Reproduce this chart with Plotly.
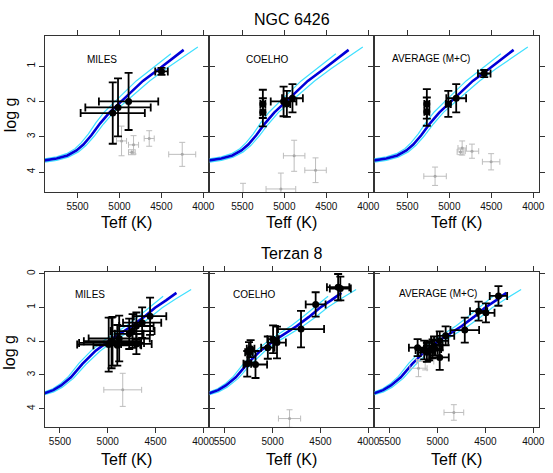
import plotly.graph_objects as go

W, H = 553, 473

# ---------------- isochrone curves ----------------
iso_top_teff = [5893, 5750, 5620, 5512, 5430, 5335, 5230, 5118, 5000, 4883, 4720, 4529, 4380, 4234]
iso_top_logg = [3.67, 3.62, 3.53, 3.39, 3.22, 2.96, 2.62, 2.31, 2.05, 1.78, 1.42, 1.08, 0.80, 0.54]
hot_top_teff = [5893, 5750, 5630, 5530, 5455, 5370, 5280, 5180, 5070, 4960, 4800, 4610, 4386]
hot_top_logg = [3.63, 3.57, 3.48, 3.34, 3.17, 2.92, 2.60, 2.30, 2.04, 1.78, 1.42, 1.07, 0.65]
cool_top_teff = [5893, 5750, 5610, 5490, 5400, 5300, 5190, 5070, 4940, 4810, 4640, 4440, 4250, 4065]
cool_top_logg = [3.72, 3.67, 3.58, 3.43, 3.25, 2.98, 2.64, 2.31, 2.04, 1.78, 1.42, 1.07, 0.76, 0.46]

iso_bot_teff = [5661, 5570, 5488, 5385, 5265, 5126, 4988, 4870, 4747, 4620, 4505, 4390, 4281]
iso_bot_logg = [3.54, 3.45, 3.31, 3.07, 2.67, 2.28, 1.99, 1.77, 1.55, 1.28, 1.01, 0.79, 0.57]
hot_bot_teff = [5661, 5575, 5500, 5410, 5300, 5170, 5040, 4925, 4805, 4680, 4560, 4420]
hot_bot_logg = [3.50, 3.41, 3.27, 3.04, 2.65, 2.27, 1.98, 1.76, 1.54, 1.27, 1.00, 0.67]
cool_bot_teff = [5661, 5565, 5475, 5360, 5230, 5080, 4935, 4810, 4680, 4550, 4430, 4290, 4127]
cool_bot_logg = [3.58, 3.50, 3.36, 3.10, 2.69, 2.29, 1.99, 1.77, 1.55, 1.28, 1.01, 0.75, 0.47]

# ---------------- NGC 6426 ----------------
n_miles_teff = [4498, 4891, 5017, 5080]
n_miles_logg = [1.15, 2.00, 2.17, 2.33]
n_miles_eteff = [75, 354, 390, 383]
n_miles_elogg = [0.10, 0.81, 0.82, 0.87]
n_miles_gteff = [4975, 4832, 4852, 4645, 4251]
n_miles_glogg = [3.12, 3.23, 3.44, 3.05, 3.50]
n_miles_geteff = [60, 60, 40, 60, 161]
n_miles_gelogg = [0.42, 0.26, 0.07, 0.22, 0.34]

n_coelho_teff = [5256, 5256, 5009, 4970, 4903]
n_coelho_logg = [2.07, 2.31, 2.00, 2.07, 1.91]
n_coelho_eteff = [30, 30, 153, 40, 124]
n_coelho_elogg = [0.40, 0.40, 0.42, 0.37, 0.40]
n_coelho_gteff = [4883, 4628, 5041, 5492]
n_coelho_glogg = [3.54, 3.95, 4.48, 4.80]
n_coelho_geteff = [128, 128, 177, 60]
n_coelho_gelogg = [0.44, 0.35, 0.45, 0.48]

n_avg_teff = [4584, 5268, 5268, 5012, 4918]
n_avg_logg = [1.21, 2.07, 2.29, 2.07, 1.91]
n_avg_eteff = [75, 30, 30, 30, 118]
n_avg_elogg = [0.10, 0.42, 0.40, 0.37, 0.40]
n_avg_gteff = [4847, 4867, 4730, 4502, 5170]
n_avg_glogg = [3.32, 3.43, 3.41, 3.71, 4.12]
n_avg_geteff = [50, 40, 80, 104, 134]
n_avg_gelogg = [0.20, 0.08, 0.20, 0.23, 0.26]

# ---------------- Terzan 8 ----------------
t_miles_teff = [4557, 4640, 4700, 4740, 4775, 4880, 4960, 4990, 4950, 4700, 4900]
t_miles_logg = [1.26, 1.45, 1.55, 1.70, 1.78, 1.92, 2.05, 2.10, 2.00, 2.08, 2.12]
t_miles_eteff = [170, 200, 180, 230, 150, 320, 340, 330, 300, 160, 250]
t_miles_elogg = [0.55, 0.45, 0.40, 0.50, 0.45, 0.68, 0.75, 0.80, 0.72, 0.30, 0.60]
t_miles_gteff = [4843]
t_miles_glogg = [3.44]
t_miles_geteff = [198]
t_miles_gelogg = [0.49]

t_coelho_teff = [4315, 4292, 4550, 4703, 4954, 4995, 5050, 5230, 5247, 5179, 5265]
t_coelho_logg = [0.40, 0.44, 0.91, 1.64, 2.04, 1.94, 2.19, 2.22, 2.33, 2.69, 2.67]
t_coelho_eteff = [117, 110, 104, 241, 93, 60, 70, 40, 40, 121, 40]
t_coelho_elogg = [0.39, 0.35, 0.36, 0.54, 0.47, 0.41, 0.33, 0.25, 0.30, 0.40, 0.38]
t_coelho_gteff = [4823]
t_coelho_glogg = [4.29]
t_coelho_geteff = [116]
t_coelho_gelogg = [0.26]

t_avg_teff = [4364, 4571, 4495, 4716, 4916, 4978, 5037, 5053, 5089, 5112, 5140, 5209, 4978]
t_avg_logg = [0.66, 1.11, 1.16, 1.67, 1.84, 1.99, 2.14, 2.23, 2.28, 2.33, 2.26, 2.19, 2.48]
t_avg_eteff = [91, 90, 90, 150, 90, 90, 90, 90, 90, 90, 90, 91, 95]
t_avg_elogg = [0.29, 0.28, 0.28, 0.37, 0.28, 0.28, 0.28, 0.28, 0.28, 0.28, 0.28, 0.25, 0.37]
t_avg_gteff = [4830, 5200, 5130]
t_avg_glogg = [4.11, 2.80, 2.60]
t_avg_geteff = [103, 90, 90]
t_avg_gelogg = [0.23, 0.25, 0.25]

panel_names = ["MILES", "COELHO", "AVERAGE (M+C)"]
row_titles = ["NGC 6426", "Terzan 8"]
x_ticks = [5500, 5000, 4500, 4000]

FONT = "Liberation Sans, Arial, Helvetica, sans-serif"
BLUE = "#0000d8"
CYAN = "#3fe0ff"
GRAY = "#bdbdbd"

# layout geometry (pixels)
col_px = [(45, 211.3), (211.3, 377.8), (377.8, 544.3)]
row_px = [(33.3, 190.7), (270.7, 426.7)]
x_ranges = [[5893, 3927], [5661, 3936]]
y_ranges = [[4.58, 0.15], [4.54, -0.05]]

panels = [
    [(n_miles_teff, n_miles_logg, n_miles_eteff, n_miles_elogg,
      n_miles_gteff, n_miles_glogg, n_miles_geteff, n_miles_gelogg),
     (n_coelho_teff, n_coelho_logg, n_coelho_eteff, n_coelho_elogg,
      n_coelho_gteff, n_coelho_glogg, n_coelho_geteff, n_coelho_gelogg),
     (n_avg_teff, n_avg_logg, n_avg_eteff, n_avg_elogg,
      n_avg_gteff, n_avg_glogg, n_avg_geteff, n_avg_gelogg)],
    [(t_miles_teff, t_miles_logg, t_miles_eteff, t_miles_elogg,
      t_miles_gteff, t_miles_glogg, t_miles_geteff, t_miles_gelogg),
     (t_coelho_teff, t_coelho_logg, t_coelho_eteff, t_coelho_elogg,
      t_coelho_gteff, t_coelho_glogg, t_coelho_geteff, t_coelho_gelogg),
     (t_avg_teff, t_avg_logg, t_avg_eteff, t_avg_elogg,
      t_avg_gteff, t_avg_glogg, t_avg_geteff, t_avg_gelogg)],
]
curves = [
    ((iso_top_teff, iso_top_logg), (hot_top_teff, hot_top_logg), (cool_top_teff, cool_top_logg)),
    ((iso_bot_teff, iso_bot_logg), (hot_bot_teff, hot_bot_logg), (cool_bot_teff, cool_bot_logg)),
]

fig = go.Figure()
layout = dict(
    width=W, height=H, margin=dict(l=0, r=0, t=0, b=0),
    paper_bgcolor="white", plot_bgcolor="white", showlegend=False,
    font=dict(family=FONT, color="black"),
)
annotations = []

idx = 0
for r in range(2):
    y0, y1 = row_px[r]
    ydom = [1 - y1 / H, 1 - y0 / H]
    for c in range(3):
        idx += 1
        x0, x1 = col_px[c]
        xdom = [x0 / W, x1 / W]
        xa = "x" if idx == 1 else f"x{idx}"
        ya = "y" if idx == 1 else f"y{idx}"
        layout["xaxis" if idx == 1 else f"xaxis{idx}"] = dict(
            domain=xdom, anchor=ya, range=x_ranges[r], tickvals=x_ticks,
            ticks="outside", ticklen=5, tickwidth=1, tickcolor="#333",
            showline=True, linecolor="#333", linewidth=1, mirror="allticks",
            showgrid=False, zeroline=False,
            tickfont=dict(size=10, family=FONT, color="#111"),
        )
        layout["yaxis" if idx == 1 else f"yaxis{idx}"] = dict(
            domain=ydom, anchor=xa, range=y_ranges[r], tickvals=[0, 1, 2, 3, 4],
            ticks="outside", ticklen=5, tickwidth=1, tickcolor="#333",
            showline=True, linecolor="#333", linewidth=1, mirror="allticks",
            showgrid=False, zeroline=False, showticklabels=(c == 0),
            tickangle=-90, tickfont=dict(size=10, family=FONT, color="#111"),
        )
        (bt, bg), (ht, hg), (ct, cg) = curves[r]
        fig.add_trace(go.Scatter(x=ht, y=hg, mode="lines", line=dict(color=CYAN, width=1.2),
                                 xaxis=xa, yaxis=ya, hoverinfo="skip"))
        fig.add_trace(go.Scatter(x=ct, y=cg, mode="lines", line=dict(color=CYAN, width=1.2),
                                 xaxis=xa, yaxis=ya, hoverinfo="skip"))
        fig.add_trace(go.Scatter(x=bt, y=bg, mode="lines", line=dict(color=BLUE, width=2.6),
                                 xaxis=xa, yaxis=ya, hoverinfo="skip"))
        tt, tg, et, eg, gt, gg, get_, geg = panels[r][c]
        fig.add_trace(go.Scatter(
            x=gt, y=gg, mode="markers", xaxis=xa, yaxis=ya,
            marker=dict(color="#a8a8a8", size=3),
            error_x=dict(type="data", array=get_, color=GRAY, thickness=1, width=3),
            error_y=dict(type="data", array=geg, color=GRAY, thickness=1, width=3),
        ))
        fig.add_trace(go.Scatter(
            x=tt, y=tg, mode="markers", xaxis=xa, yaxis=ya,
            marker=dict(color="black", size=7),
            error_x=dict(type="data", array=et, color="black", thickness=1.8, width=4),
            error_y=dict(type="data", array=eg, color="black", thickness=1.8, width=4),
        ))
        # panel label
        lab_pos = {0: [(103, 56.7), (269, 56.7), (435, 55.5)],
                   1: [(90.5, 293), (256.7, 293), (441.7, 292)]}[r][c]
        annotations.append(dict(text=panel_names[c], x=lab_pos[0] / W, y=1 - lab_pos[1] / H,
                                xref="paper", yref="paper", showarrow=False,
                                xanchor="center", yanchor="middle",
                                font=dict(size=10, family=FONT, color="black")))
        # x axis title
        ty = 221 if r == 0 else 459
        annotations.append(dict(text="Teff (K)", x=(x0 + x1) / 2 / W, y=1 - ty / H,
                                xref="paper", yref="paper", showarrow=False,
                                xanchor="center", yanchor="middle",
                                font=dict(size=16, family=FONT, color="black")))
    # row title
    tyy = 16.3 if r == 0 else 252.5
    annotations.append(dict(text=row_titles[r], x=(45 + 544.3) / 2 / W, y=1 - tyy / H,
                            xref="paper", yref="paper", showarrow=False,
                            xanchor="center", yanchor="middle",
                            font=dict(size=16, family=FONT, color="black")))
    # y axis title
    ly = 112 if r == 0 else 351
    annotations.append(dict(text="log g", x=10 / W, y=1 - ly / H, textangle=-90,
                            xref="paper", yref="paper", showarrow=False,
                            xanchor="center", yanchor="middle",
                            font=dict(size=16, family=FONT, color="black")))

layout["annotations"] = annotations
fig.update_layout(**layout)
fig.write_html("out.html")
